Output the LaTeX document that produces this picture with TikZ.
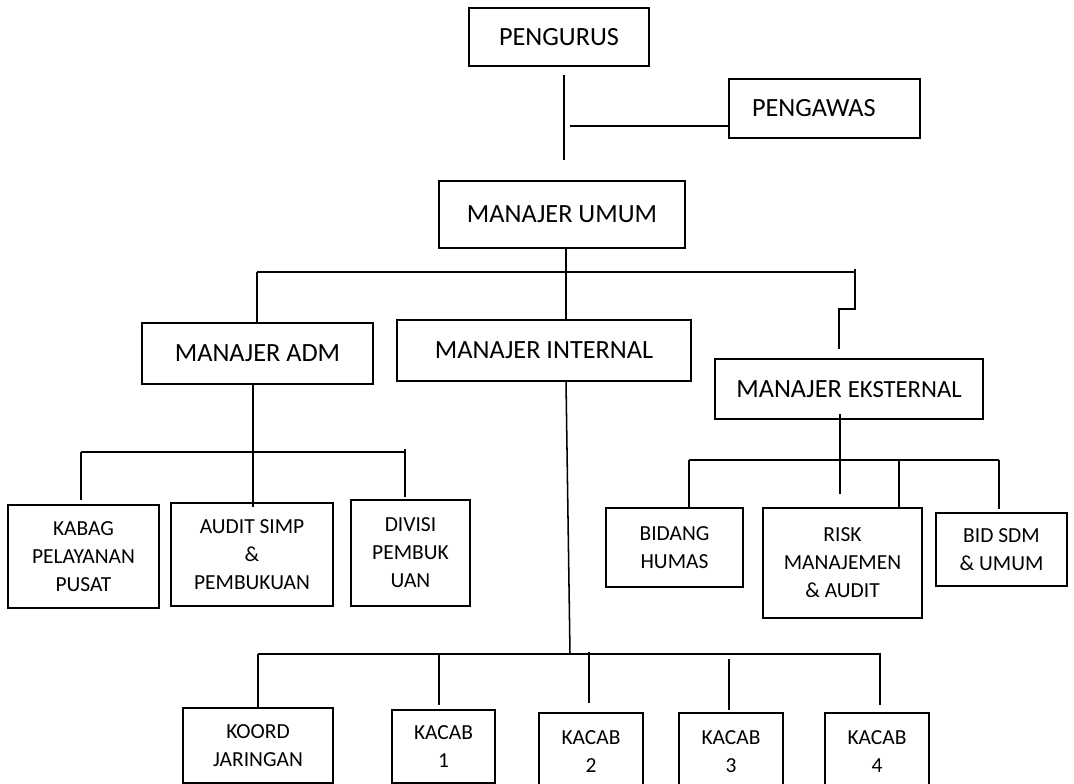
\documentclass[tikz,border=0pt]{standalone}
\usepackage{fontspec}
\setmainfont{Carlito}
\begin{document}
\begin{tikzpicture}[x=0.75pt,y=-0.75pt,
  box/.style={draw,line width=1.3pt,inner sep=0pt,align=center,font=\fontsize{19.7}{24}\selectfont},
  sbox/.style={draw,line width=1.3pt,inner sep=0pt,align=center,font=\fontsize{16.1}{21}\selectfont},
  ln/.style={line width=1.15pt}]
\useasboundingbox (0,0) rectangle (1074,784);
\clip (0,0) rectangle (1074,784);
\fill[white] (0,0) rectangle (1074,784);

% top level
\node[box,minimum width=135pt,minimum height=43.5pt] (pengurus) at (559,37) {PENGURUS};
\node[box,align=left,text width=108.75pt,inner xsep=17.25pt,minimum height=44.25pt] (pengawas) at (824.5,108.5) {PENGAWAS};
\node[box,minimum width=184.5pt,minimum height=50.25pt] (umum) at (562,214.5) {MANAJER UMUM};

% managers
\node[box,minimum width=173.25pt,minimum height=45.75pt] (adm) at (257.5,353.5) {MANAJER ADM};
\node[box,minimum width=220.5pt,minimum height=45.75pt] (internal) at (544,350.5) {MANAJER INTERNAL};
\node[box,minimum width=201pt,minimum height=45pt] (eksternal) at (849,389) {MANAJER {\fontsize{18.5}{20}\selectfont EKSTERNAL}};

% ADM children
\node[sbox,minimum width=113.25pt,minimum height=77.25pt] (kabag) at (83.5,556.5) {KABAG\\PELAYANAN\\PUSAT};
\node[sbox,minimum width=121.5pt,minimum height=77.25pt] (audit) at (252,554.5) {AUDIT SIMP\\\&\\PEMBUKUAN};
\node[sbox,minimum width=89.25pt,minimum height=79.5pt] (divisi) at (410.5,553) {DIVISI\\PEMBUK\\UAN};

% EKSTERNAL children
\node[sbox,minimum width=102.75pt,minimum height=59.25pt] (humas) at (674.5,547.5) {BIDANG\\HUMAS};
\node[sbox,minimum width=119.25pt,minimum height=82.5pt] (risk) at (842.5,563) {RISK\\MANAJEMEN\\\& AUDIT};
\node[sbox,minimum width=98.25pt,minimum height=54.75pt] (sdm) at (1001.5,549.5) {BID SDM\\\& UMUM};

% INTERNAL children
\node[sbox,minimum width=112.5pt,minimum height=56.25pt] (koord) at (258,745.5) {KOORD\\JARINGAN};
\node[sbox,minimum width=77.25pt,minimum height=54.75pt] (kacab1) at (443.5,746.5) {KACAB\\1};
\node[sbox,minimum width=78pt,minimum height=58.5pt] (kacab2) at (591,752) {KACAB\\2};
\node[sbox,minimum width=78pt,minimum height=58.5pt] (kacab3) at (731,752) {KACAB\\3};
\node[sbox,minimum width=78pt,minimum height=58.5pt] (kacab4) at (877,752) {KACAB\\4};

% junction coordinates
\coordinate (p1) at (564,75);
\coordinate (p2) at (564,160);
\coordinate (p3) at (570,126);
\coordinate (u1) at (566,248);
\coordinate (u2) at (566,320);
\coordinate (bL) at (257,272);
\coordinate (bR) at (855,272);
\coordinate (bR0) at (855,269);
\coordinate (bR1) at (855,309);
\coordinate (bR2) at (839,309);
\coordinate (bR3) at (839,349);
\coordinate (a1) at (253,384);
\coordinate (a2) at (253,507);
\coordinate (aL) at (81,452);
\coordinate (aR) at (405,452);
\coordinate (aR0) at (405,449);
\coordinate (aL2) at (81,500);
\coordinate (aR2) at (405,497);
\coordinate (i1) at (566,381);
\coordinate (i2) at (570,654);
\coordinate (kL) at (258,654);
\coordinate (kR) at (881,654);
\coordinate (e1) at (840,414);
\coordinate (e2) at (840,494);
\coordinate (eL) at (689,460);
\coordinate (eM) at (899,460);
\coordinate (eR) at (999,460);

% connectors: top
\draw[ln] (p1) -- (p2);
\draw[ln] (p3) -- (p3 -| pengawas.west);
\draw[ln] (u1) -- (u2);
\draw[ln] (bL) -- (bR);
\draw[ln] (bL) -- (bL |- adm.north);
\draw[ln] (bR0) -- (bR1) -- (bR2) -- (bR3);

% ADM
\draw[ln] (a1) -- (a2);
\draw[ln] (aL) -- (aR);
\draw[ln] (aL) -- (aL2);
\draw[ln] (aR0) -- (aR2);

% EKSTERNAL
\draw[ln] (e1) -- (e2);
\draw[ln] (eL) -- (eR);
\draw[ln] (eL) -- (eL |- humas.north);
\draw[ln] (eM) -- (eM |- risk.north);
\draw[ln] (eR) -- ++(0,49);

% INTERNAL
\draw[ln] (i1) -- (i2);
\draw[ln] (kL) -- (kR);
\draw[ln] (kL) -- ++(0,53);
\draw[ln] (439,654) -- (439,705);
\draw[ln] (589,652) -- (589,703);
\draw[ln] (729,659) -- (729,710);
\draw[ln] (880,654) -- (880,705);
\end{tikzpicture}
\end{document}
